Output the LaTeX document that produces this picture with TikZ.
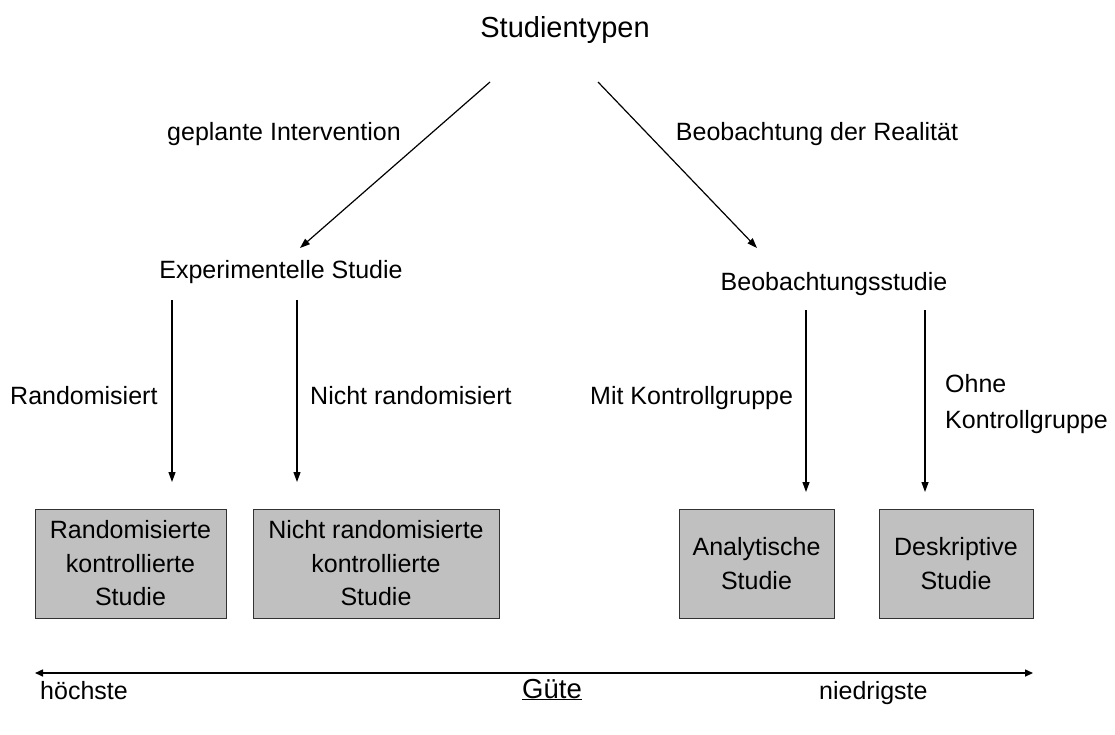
\documentclass[tikz,border=0pt]{standalone}
\usepackage{fontspec}
\setmainfont{Liberation Sans}
\usetikzlibrary{arrows.meta}
\definecolor{boxfill}{RGB}{192,192,192}
\definecolor{boxline}{RGB}{50,50,50}
\begin{document}
\begin{tikzpicture}[x=1pt,y=-1pt,
  lbl/.style={anchor=base,inner sep=0pt,font=\fontsize{25}{30}\selectfont},
  stdbox/.style={draw=boxline,fill=boxfill,line width=1pt,minimum height=109pt,inner sep=0pt,align=center,font=\fontsize{25}{33.5}\selectfont},
  arr/.style={line width=1.2pt,-{Triangle[length=10pt,width=7pt]}},
  gar/.style={line width=1.5pt,{Triangle[length=8pt,width=7pt]}-{Triangle[length=8pt,width=7pt]}}]
\useasboundingbox (0,0) rectangle (1115,734);
% title
\node[lbl,font=\fontsize{29}{34}\selectfont] (title) at (565,37) {Studientypen};
% level 1
\coordinate (l0) at (490,82);
\coordinate (l1) at (300,248);
\coordinate (r0) at (598,82);
\coordinate (r1) at (757,248);
\draw[arr] (l0) -- (l1);
\draw[arr] (r0) -- (r1);
\node[lbl] (plan) at (284,140) {geplante Intervention};
\node[lbl] (beob) at (817,140) {Beobachtung der Realität};
\node[lbl] (exp) at (281,278) {Experimentelle Studie};
\node[lbl] (obs) at (834,290) {Beobachtungsstudie};
% vertical arrows
\coordinate (a0) at (172,300); \coordinate (a1) at (172,482);
\coordinate (b0) at (297,300); \coordinate (b1) at (297,482);
\coordinate (c0) at (806,310); \coordinate (c1) at (806,492);
\coordinate (d0) at (925,310); \coordinate (d1) at (925,492);
\draw[arr] (a0) -- (a1);
\draw[arr] (b0) -- (b1);
\draw[arr] (c0) -- (c1);
\draw[arr] (d0) -- (d1);
\node[lbl,anchor=base west] (rand) at (10,404) {Randomisiert};
\node[lbl,anchor=base west] (nrand) at (310,404) {Nicht randomisiert};
\node[lbl,anchor=base west] (mit) at (590,404) {Mit Kontrollgruppe};
\node[lbl,anchor=base west] (ohne) at (945,392) {Ohne};
\node[lbl,anchor=base west] (ohne2) at (945,428) {Kontrollgruppe};
% boxes
\node[stdbox,minimum width=191pt] (rct) at (130.5,563.5) {Randomisierte\\kontrollierte\\Studie};
\node[stdbox,minimum width=246pt] (nrct) at (376,563.5) {Nicht randomisierte\\kontrollierte\\Studie};
\node[stdbox,minimum width=155pt] (ana) at (756.5,563.5) {Analytische\\Studie};
\node[stdbox,minimum width=154pt] (desk) at (956,563.5) {Deskriptive\\Studie};
% quality axis
\coordinate (g0) at (35,673);
\coordinate (g1) at (1033,673);
\draw[gar] (g0) -- (g1);
\node[lbl,anchor=base west] (hoch) at (40,699) {höchste};
\node[lbl,font=\fontsize{27.5}{32}\selectfont] (guete) at (552,698) {\underline{Güte}};
\node[lbl,anchor=base west] (nied) at (819,699) {niedrigste};
\end{tikzpicture}
\end{document}
